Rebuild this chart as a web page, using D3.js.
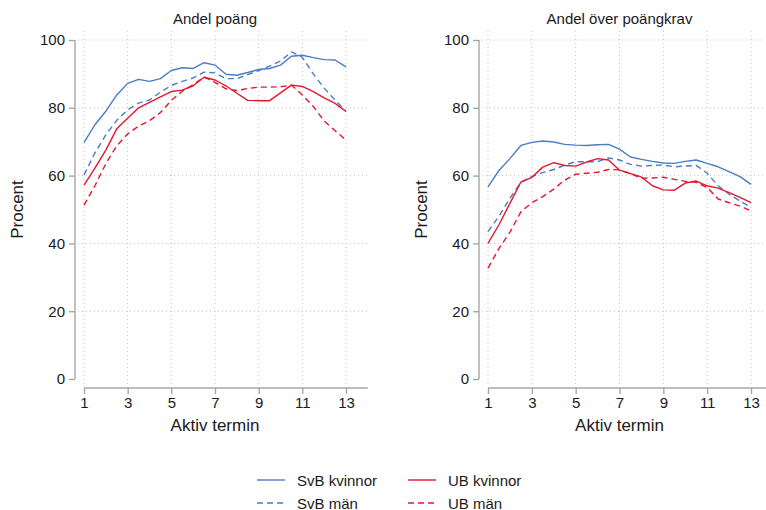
<!DOCTYPE html>
<html>
<head>
<meta charset="utf-8">
<script src="https://cdn.jsdelivr.net/npm/d3@7/dist/d3.min.js"></script>
<style>
  html, body { margin: 0; padding: 0; background: #fff; }
  svg { display: block; font-family: "Liberation Sans", Arial, sans-serif; }
</style>
</head>
<body>
<svg id="chart" width="766" height="510"></svg>
<script>
// Active term (half-term steps)
const terms = [1, 1.5, 2, 2.5, 3, 3.5, 4, 4.5, 5, 5.5, 6, 6.5, 7, 7.5, 8, 8.5, 9, 9.5, 10, 10.5, 11, 11.5, 12, 12.5, 13];
const xTicks = [1, 3, 5, 7, 9, 11, 13];
const yTicks = [0, 20, 40, 60, 80, 100];
const panelTitles = ["Andel poäng", "Andel över poängkrav"];
const seriesNames = ["SvB kvinnor", "SvB män", "UB kvinnor", "UB män"];

// Andel poäng
const svbKvinnorPoang = [69.7, 75.0, 79.0, 83.8, 87.2, 88.4, 87.8, 88.6, 91.0, 91.8, 91.6, 93.3, 92.6, 89.9, 89.6, 90.4, 91.3, 91.6, 92.6, 95.2, 95.5, 94.8, 94.2, 94.1, 92.1];
const svbManPoang     = [60.2, 66.7, 72.0, 76.3, 79.4, 81.4, 82.3, 84.6, 86.6, 87.8, 88.8, 90.5, 90.3, 88.6, 88.6, 89.8, 91.0, 92.3, 93.8, 96.5, 94.9, 90.0, 85.8, 82.3, 79.0];
const ubKvinnorPoang  = [57.2, 62.2, 67.5, 73.8, 76.9, 80.0, 81.6, 83.2, 84.8, 85.2, 86.5, 89.0, 88.2, 86.5, 84.3, 82.2, 82.1, 82.1, 84.4, 86.7, 86.3, 84.8, 82.9, 81.3, 78.9];
const ubManPoang      = [51.3, 57.0, 63.5, 68.8, 72.3, 74.6, 76.2, 78.6, 82.2, 84.9, 86.8, 89.1, 87.5, 85.6, 85.1, 85.7, 86.1, 86.1, 86.2, 86.7, 83.8, 80.4, 76.1, 73.2, 70.5];

// Andel över poängkrav
const svbKvinnorKrav = [56.7, 61.5, 65.0, 68.9, 69.8, 70.2, 69.9, 69.2, 69.0, 68.9, 69.1, 69.2, 67.8, 65.5, 64.8, 64.2, 63.7, 63.6, 64.2, 64.6, 63.6, 62.6, 61.2, 59.7, 57.4];
const svbManKrav     = [43.5, 48.0, 53.3, 58.0, 59.7, 60.9, 61.8, 63.1, 64.1, 64.1, 64.1, 65.2, 64.6, 63.3, 62.8, 63.0, 63.1, 62.6, 62.8, 63.0, 60.7, 57.0, 54.5, 52.5, 50.6];
const ubKvinnorKrav  = [40.0, 45.5, 51.8, 58.1, 59.5, 62.5, 63.8, 63.0, 62.8, 64.0, 65.0, 64.6, 61.6, 60.6, 59.6, 57.0, 55.8, 55.7, 57.8, 58.4, 57.0, 56.3, 55.0, 53.6, 52.0];
const ubManKrav      = [32.7, 38.5, 43.3, 49.3, 52.0, 53.8, 56.0, 58.7, 60.4, 60.7, 61.0, 61.8, 61.7, 60.6, 59.2, 59.3, 59.5, 58.9, 58.3, 58.0, 56.5, 53.1, 52.0, 51.0, 49.6];

const panelData = [
  [svbKvinnorPoang, svbManPoang, ubKvinnorPoang, ubManPoang],
  [svbKvinnorKrav, svbManKrav, ubKvinnorKrav, ubManKrav]
];

const BLUE = "#4a7cc6", RED = "#e3172e";
const styles = [
  { color: BLUE, dash: null },
  { color: BLUE, dash: "6,4" },
  { color: RED, dash: null },
  { color: RED, dash: "6,4" }
];

const svg = d3.select("#chart");
const W = 766, H = 510;
svg.append("defs").append("clipPath").attr("id", "page")
  .append("rect").attr("width", W).attr("height", H);

const panels = [
  { axisX: 75, x0: 84, x1: 346, yLab: 17 },
  { axisX: 479, x0: 488, x1: 751, yLab: 421 }
];
const yTop = 40, yBot = 379, xAxisY = 388, gridTop = 31;
const axisGray = "#a6a6a6", gridGray = "#c4c4c4", textCol = "#1a1a1a";

panels.forEach((p, pi) => {
  const x = d3.scaleLinear().domain([1, 13]).range([p.x0, p.x1]);
  const y = d3.scaleLinear().domain([0, 100]).range([yBot, yTop]);
  const g = svg.append("g").attr("clip-path", "url(#page)");

  // grid
  g.append("g").selectAll("line").data(yTicks.filter(d => d > 0)).join("line")
    .attr("x1", p.axisX + 3).attr("x2", x(14))
    .attr("y1", d => y(d)).attr("y2", d => y(d))
    .attr("stroke", gridGray).attr("stroke-width", 1).attr("stroke-dasharray", "1,3");
  g.append("g").selectAll("line").data(xTicks).join("line")
    .attr("x1", d => x(d)).attr("x2", d => x(d))
    .attr("y1", gridTop).attr("y2", xAxisY - 2)
    .attr("stroke", gridGray).attr("stroke-width", 1).attr("stroke-dasharray", "1,3");

  // y axis
  const yAxis = d3.axisLeft(y).tickValues(yTicks).tickSize(6).tickPadding(4);
  const ya = g.append("g").attr("transform", `translate(${p.axisX},0)`).call(yAxis);
  ya.select(".domain").attr("stroke", axisGray).attr("stroke-width", 1.4)
    .attr("d", `M0,${yTop}V${yBot}`);
  ya.selectAll(".tick line").attr("stroke", axisGray).attr("stroke-width", 1.4);
  ya.selectAll(".tick text").attr("font-size", 15).attr("fill", textCol)
    .attr("font-family", "Liberation Sans, Arial, sans-serif");

  // x axis
  const xExt = d3.scaleLinear().domain([1, 14]).range([p.x0, x(14)]);
  const xAxis = d3.axisBottom(xExt).tickValues(xTicks).tickSize(6).tickPadding(3).tickFormat(d3.format("d"));
  const xa = g.append("g").attr("transform", `translate(0,${xAxisY})`).call(xAxis);
  xa.select(".domain").attr("stroke", axisGray).attr("stroke-width", 1.4)
    .attr("d", `M${p.x0},0H${x(14)}`);
  xa.selectAll(".tick line").attr("stroke", axisGray).attr("stroke-width", 1.4);
  xa.selectAll(".tick text").attr("font-size", 15).attr("fill", textCol)
    .attr("font-family", "Liberation Sans, Arial, sans-serif");

  // titles and axis labels
  g.append("text").attr("x", (p.x0 + p.x1) / 2).attr("y", 23.5)
    .attr("text-anchor", "middle").attr("font-size", 15).attr("fill", textCol)
    .text(panelTitles[pi]);
  g.append("text").attr("x", (p.x0 + p.x1) / 2).attr("y", 431)
    .attr("text-anchor", "middle").attr("font-size", 17).attr("fill", textCol)
    .text("Aktiv termin");
  g.append("text").attr("transform", `translate(${p.yLab + 6},${(yTop + yBot) / 2}) rotate(-90)`)
    .attr("text-anchor", "middle").attr("font-size", 17).attr("fill", textCol)
    .text("Procent");

  // series
  const line = d3.line().x((d, i) => x(terms[i])).y(d => y(d));
  panelData[pi].forEach((vals, si) => {
    g.append("path").datum(vals)
      .attr("d", line)
      .attr("fill", "none")
      .attr("stroke", styles[si].color)
      .attr("stroke-width", 1.4)
      .attr("stroke-linejoin", "round")
      .attr("stroke-dasharray", styles[si].dash);
  });
});

// legend
const legendPos = [
  { x: 257, y: 480 }, { x: 257, y: 503 },
  { x: 408, y: 480 }, { x: 408, y: 503 }
];
const lg = svg.append("g");
seriesNames.forEach((name, i) => {
  const pos = legendPos[i];
  lg.append("line").attr("x1", pos.x).attr("x2", pos.x + 28)
    .attr("y1", pos.y).attr("y2", pos.y)
    .attr("stroke", styles[i].color).attr("stroke-width", 1.4)
    .attr("stroke-dasharray", styles[i].dash);
  lg.append("text").attr("x", pos.x + 40).attr("y", pos.y + 5.5)
    .attr("font-size", 15).attr("fill", textCol).text(name);
});
</script>
</body>
</html>
